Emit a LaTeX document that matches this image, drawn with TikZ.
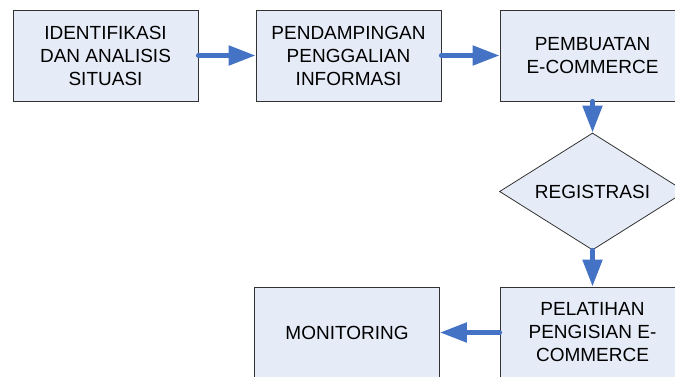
\documentclass[tikz,border=0pt]{standalone}
\usepackage{fontspec}
\setmainfont{Liberation Sans}
\usetikzlibrary{shapes.geometric,arrows.meta}
\definecolor{boxfill}{RGB}{230,236,247}
\definecolor{arrowblue}{RGB}{68,114,196}
\begin{document}
\begin{tikzpicture}[x=1pt,y=1pt,
    procbox/.style={draw=black!80, line width=0.8pt, fill=boxfill,
      minimum width=185pt, minimum height=91pt, align=center,
      font=\fontsize{19}{23}\selectfont},
    decbox/.style={diamond, draw=black!80, line width=0.8pt, fill=boxfill,
      minimum width=186pt, minimum height=117pt, inner sep=0pt, aspect=1.6,
      font=\fontsize{19}{23}\selectfont},
    flowarrow/.style={arrowblue, line width=5pt, line cap=round,
      -{Triangle[length=27pt,width=19pt]}}]

  \useasboundingbox (0,0) rectangle (675,-376);

  % top row
  \node[procbox] (ident) at (105.5,-55.5) {IDENTIFIKASI\\DAN ANALISIS\\SITUASI};
  \node[procbox] (damping) at (348.5,-55.5) {PENDAMPINGAN\\PENGGALIAN\\INFORMASI};
  \node[procbox] (buat) at (592.5,-55.5) {PEMBUATAN\\E-COMMERCE};

  % decision
  \node[decbox] (regis) at (592.5,-191.5) {REGISTRASI};

  % bottom row
  \node[procbox] (latih) at (592.5,-332.5) {PELATIHAN\\PENGISIAN E-\\COMMERCE};
  \node[procbox] (monit) at (347,-332.5) {MONITORING};

  % arrows
  \draw[flowarrow] (ident.east) -- (damping.west);
  \draw[flowarrow] (damping.east) -- (buat.west);
  \draw[flowarrow] (buat.south) -- (regis.north);
  \draw[flowarrow] (regis.south) -- (latih.north);
  \draw[flowarrow] (latih.west) -- (monit.east);

\end{tikzpicture}
\end{document}
